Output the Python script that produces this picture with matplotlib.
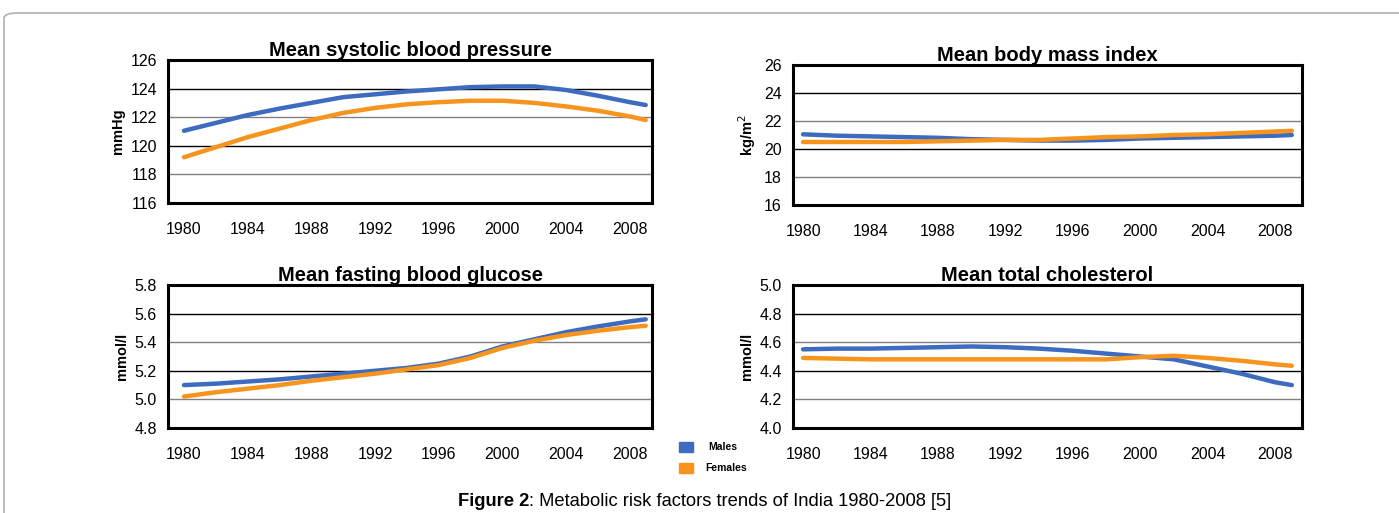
import numpy as np
import matplotlib.pyplot as plt
from matplotlib.patches import FancyBboxPatch, Rectangle

plt.rcParams['font.family'] = ['Liberation Sans', 'DejaVu Sans']

# Data (India, 1980-2009)
years = [1980, 1982, 1984, 1986, 1988, 1990, 1992, 1994, 1996, 1998, 2000, 2002, 2004, 2006, 2008, 2009]

sbp_males = [121.05, 121.6, 122.15, 122.6, 123.0, 123.4, 123.6, 123.8, 123.95, 124.1, 124.15, 124.15, 123.9, 123.5, 123.05, 122.85]
sbp_females = [119.2, 119.9, 120.6, 121.2, 121.8, 122.3, 122.65, 122.9, 123.05, 123.15, 123.15, 123.0, 122.75, 122.45, 122.05, 121.8]

bmi_males = [21.05, 20.95, 20.9, 20.85, 20.8, 20.7, 20.65, 20.6, 20.6, 20.65, 20.75, 20.8, 20.85, 20.9, 20.95, 21.0]
bmi_females = [20.5, 20.5, 20.5, 20.5, 20.55, 20.6, 20.65, 20.65, 20.75, 20.85, 20.9, 21.0, 21.05, 21.15, 21.25, 21.3]

glu_males = [5.10, 5.11, 5.125, 5.14, 5.16, 5.18, 5.20, 5.22, 5.25, 5.30, 5.37, 5.42, 5.47, 5.51, 5.545, 5.56]
glu_females = [5.02, 5.05, 5.075, 5.10, 5.13, 5.155, 5.18, 5.21, 5.24, 5.29, 5.36, 5.41, 5.45, 5.48, 5.505, 5.515]

chol_males = [4.55, 4.555, 4.555, 4.56, 4.565, 4.57, 4.565, 4.555, 4.54, 4.52, 4.50, 4.48, 4.43, 4.38, 4.32, 4.30]
chol_females = [4.49, 4.485, 4.48, 4.48, 4.48, 4.48, 4.48, 4.48, 4.48, 4.48, 4.495, 4.505, 4.49, 4.47, 4.445, 4.435]

xticks = [1980, 1984, 1988, 1992, 1996, 2000, 2004, 2008]

panels = [
    ("Mean systolic blood pressure", "mmHg", sbp_males, sbp_females,
     np.arange(116, 127, 2), "%d", [0.1201, 0.6043, 0.346, 0.2788], (1979.0, 2009.4)),
    ("Mean body mass index", "kg/m$^2$", bmi_males, bmi_females,
     np.arange(16, 27, 2), "%d", [0.5668, 0.6004, 0.3638, 0.2729], (1979.4, 2009.6)),
    ("Mean fasting blood glucose", "mmol/l", glu_males, glu_females,
     np.round(np.arange(4.8, 5.81, 0.2), 1), "%.1f", [0.1201, 0.1657, 0.346, 0.2788], (1979.0, 2009.4)),
    ("Mean total cholesterol", "mmol/l", chol_males, chol_females,
     np.round(np.arange(4.0, 5.01, 0.2), 1), "%.1f", [0.5668, 0.1657, 0.3638, 0.2788], (1979.4, 2009.6)),
]

blue = "#3d6bc0"
orange = "#f7941d"

fig = plt.figure(figsize=(13.99, 5.13), dpi=100)

# rounded frame of the page
frame = FancyBboxPatch((4 / 1399, -0.2), 1.2, 1 - 13 / 513 + 0.2,
                       boxstyle="round,pad=0,rounding_size=0.01",
                       transform=fig.transFigure, fill=False,
                       edgecolor="#b0b0b0", linewidth=1.2)
fig.patches.append(frame)

for title, ylab, males, females, yt, fmt, pos, xl in panels:
    ax = fig.add_axes(pos)
    ax.plot(years, males, color=blue, lw=3.2, solid_capstyle="round")
    ax.plot(years, females, color=orange, lw=3.2, solid_capstyle="round")
    ax.set_xlim(*xl)
    ax.set_ylim(yt[0], yt[-1])
    ax.set_yticks(yt)
    ax.set_yticklabels([fmt % v for v in yt], fontsize=11.5)
    ax.set_xticks(xticks)
    ax.set_xticklabels([str(x) for x in xticks], fontsize=11.5)
    ax.tick_params(axis="x", length=0, pad=14)
    ax.tick_params(axis="y", length=0, pad=8)
    for i, v in enumerate(yt[1:-1]):
        ax.axhline(v, color="#808080" if i % 2 == 0 else "black", lw=1.0, zorder=0)
    for s in ax.spines.values():
        s.set_linewidth(2.2)
    ax.set_title(title, fontsize=14.5, fontweight="bold", pad=2)
    ax.set_ylabel(ylab, fontsize=10.5, fontweight="bold", labelpad=4)

# legend
fig.patches.append(Rectangle((679 / 1399, 1 - 452 / 513), 14 / 1399, 10 / 513,
                             transform=fig.transFigure, color=blue))
fig.patches.append(Rectangle((679 / 1399, 1 - 473 / 513), 14 / 1399, 10 / 513,
                             transform=fig.transFigure, color=orange))
fig.text(708 / 1399, 1 - 447 / 513, "Males", fontsize=7.5, fontweight="bold", va="center")
fig.text(705 / 1399, 1 - 468 / 513, "Females", fontsize=7.5, fontweight="bold", va="center")

# caption
split = 529 / 1399
fig.text(split, 1 - 502 / 513, "Figure 2", fontsize=13.2, fontweight="bold",
         ha="right", va="center")
fig.text(split, 1 - 502 / 513, ": Metabolic risk factors trends of India 1980-2008 [5]",
         fontsize=13.2, ha="left", va="center")

fig.savefig("out.png", dpi=100)
